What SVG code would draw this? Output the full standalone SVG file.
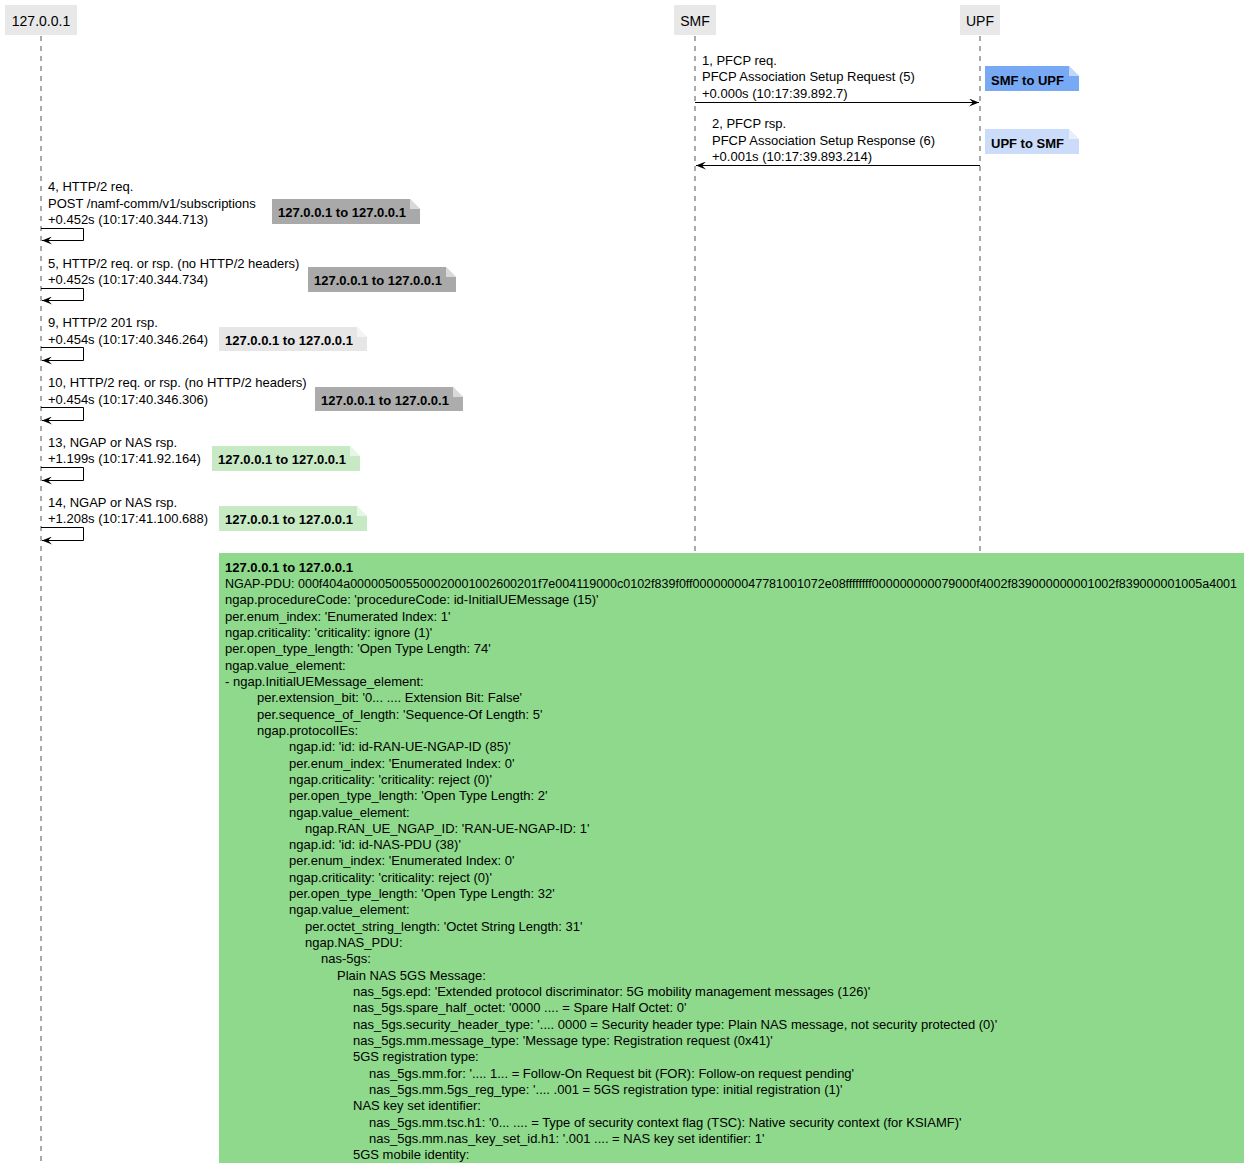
<svg xmlns="http://www.w3.org/2000/svg" width="1244" height="1163" viewBox="0 0 1244 1163">
  <style>
    text { font-family: "Liberation Sans", Arial, sans-serif; font-size: 13px; fill: #000; }
    .part { font-size: 14px; text-anchor: middle; }
    .b { font-weight: bold; }
    .hex { font-size: 12.5px; }
    .box { fill: #e8e8e8; }
    .life { stroke: #555; stroke-width: 1; stroke-dasharray: 5,5; fill: none; }
    .msg { stroke: #000; stroke-width: 1; fill: none; marker-end: url(#arr); }
    .fold { fill: #ffffff; fill-opacity: 0.55; }
  </style>
  <defs>
    <marker id="arr" markerUnits="userSpaceOnUse" markerWidth="10" markerHeight="8" refX="10" refY="4" orient="auto">
      <path d="M0,0 L10,4 L0,8 L4,4 Z" fill="#000"/>
    </marker>
  </defs>

  <rect width="1244" height="1163" fill="#ffffff"/>

  <!-- participants -->
  <g id="p-local">
    <rect class="box" x="5" y="5" width="72" height="30"/>
    <text class="part" x="41" y="26">127.0.0.1</text>
  </g>
  <g id="p-smf">
    <rect class="box" x="674" y="5" width="42" height="30"/>
    <text class="part" x="695" y="26">SMF</text>
  </g>
  <g id="p-upf">
    <rect class="box" x="960" y="5" width="40" height="30"/>
    <text class="part" x="980" y="26">UPF</text>
  </g>

  <!-- lifelines and messages -->
  <g id="connectors">
    <line class="life" x1="41" y1="36" x2="41" y2="1163"/>
    <line class="life" x1="695" y1="36" x2="695" y2="1163"/>
    <line class="life" x1="980" y1="36" x2="980" y2="1163"/>

    <path class="msg" d="M695,102.5 H979"/>
    <path class="msg" d="M980,165.5 H696"/>
    <path class="msg" d="M41,228.5 H83.5 V240.5 H42"/>
    <path class="msg" d="M41,288.5 H83.5 V300.5 H42"/>
    <path class="msg" d="M41,347.5 H83.5 V360.5 H42"/>
    <path class="msg" d="M41,407.5 H83.5 V420.5 H42"/>
    <path class="msg" d="M41,467.5 H83.5 V480.5 H42"/>
    <path class="msg" d="M41,527.5 H83.5 V540.5 H42"/>
  </g>

  <!-- message labels -->
  <g id="m1">
    <text x="702" y="65">1, PFCP req.</text>
    <text x="702" y="81.3">PFCP Association Setup Request (5)</text>
    <text x="702" y="97.6">+0.000s (10:17:39.892.7)</text>
  </g>
  <g id="m2">
    <text x="712" y="128.3">2, PFCP rsp.</text>
    <text x="712" y="144.6">PFCP Association Setup Response (6)</text>
    <text x="712" y="160.9">+0.001s (10:17:39.893.214)</text>
  </g>
  <g id="m4">
    <text x="48" y="191.3">4, HTTP/2 req.</text>
    <text x="48" y="207.6">POST /namf-comm/v1/subscriptions</text>
    <text x="48" y="224">+0.452s (10:17:40.344.713)</text>
  </g>
  <g id="m5">
    <text x="48" y="267.7">5, HTTP/2 req. or rsp. (no HTTP/2 headers)</text>
    <text x="48" y="284">+0.452s (10:17:40.344.734)</text>
  </g>
  <g id="m9">
    <text x="48" y="327.2">9, HTTP/2 201 rsp.</text>
    <text x="48" y="343.5">+0.454s (10:17:40.346.264)</text>
  </g>
  <g id="m10">
    <text x="48" y="387.2">10, HTTP/2 req. or rsp. (no HTTP/2 headers)</text>
    <text x="48" y="403.5">+0.454s (10:17:40.346.306)</text>
  </g>
  <g id="m13">
    <text x="48" y="446.7">13, NGAP or NAS rsp.</text>
    <text x="48" y="463">+1.199s (10:17:41.92.164)</text>
  </g>
  <g id="m14">
    <text x="48" y="506.7">14, NGAP or NAS rsp.</text>
    <text x="48" y="523">+1.208s (10:17:41.100.688)</text>
  </g>

  <!-- notes -->
  <g id="n1">
    <path d="M985,66 H1069 L1079,76 V91 H985 Z" fill="#78a9f4"/>
    <path class="fold" d="M1069,66 V76 H1079 Z"/>
    <text class="b" x="991" y="84.5">SMF to UPF</text>
  </g>
  <g id="n2">
    <path d="M985,129 H1069 L1079,139 V154 H985 Z" fill="#cadcf9"/>
    <path class="fold" d="M1069,129 V139 H1079 Z"/>
    <text class="b" x="991" y="147.5">UPF to SMF</text>
  </g>
  <g id="n4">
    <path d="M272,199 H410 L420,209 V224 H272 Z" fill="#a9a9a9"/>
    <path class="fold" d="M410,199 V209 H420 Z"/>
    <text class="b" x="278" y="216.7">127.0.0.1 to 127.0.0.1</text>
  </g>
  <g id="n5">
    <path d="M308,267 H446 L456,277 V292 H308 Z" fill="#a9a9a9"/>
    <path class="fold" d="M446,267 V277 H456 Z"/>
    <text class="b" x="314" y="284.5">127.0.0.1 to 127.0.0.1</text>
  </g>
  <g id="n9">
    <path d="M219,327 H357 L367,337 V351 H219 Z" fill="#e6e6e6"/>
    <path class="fold" d="M357,327 V337 H367 Z"/>
    <text class="b" x="225" y="344.5">127.0.0.1 to 127.0.0.1</text>
  </g>
  <g id="n10">
    <path d="M315,387 H453 L463,397 V411 H315 Z" fill="#acacac"/>
    <path class="fold" d="M453,387 V397 H463 Z"/>
    <text class="b" x="321" y="404.5">127.0.0.1 to 127.0.0.1</text>
  </g>
  <g id="n13">
    <path d="M212,446 H350 L360,456 V471 H212 Z" fill="#c7eac5"/>
    <path class="fold" d="M350,446 V456 H360 Z"/>
    <text class="b" x="218" y="464">127.0.0.1 to 127.0.0.1</text>
  </g>
  <g id="n14">
    <path d="M219,506 H357 L367,516 V531 H219 Z" fill="#c7eac5"/>
    <path class="fold" d="M357,506 V516 H367 Z"/>
    <text class="b" x="225" y="524">127.0.0.1 to 127.0.0.1</text>
  </g>

  <!-- decoded NGAP message -->
  <g id="n-detail">
    <rect x="219" y="553" width="1040" height="620" fill="#8ed98b"/>
    <text class="b" x="225" y="571.5">127.0.0.1 to 127.0.0.1</text>
    <text class="hex" x="225" y="587.8" textLength="1012" lengthAdjust="spacingAndGlyphs">NGAP-PDU: 000f404a000005005500020001002600201f7e004119000c0102f839f0ff0000000047781001072e08ffffffff000000000079000f4002f839000000001002f839000001005a4001</text>
    <text x="225" y="604.2">ngap.procedureCode: 'procedureCode: id-InitialUEMessage (15)'</text>
    <text x="225" y="620.5">per.enum_index: 'Enumerated Index: 1'</text>
    <text x="225" y="636.8">ngap.criticality: 'criticality: ignore (1)'</text>
    <text x="225" y="653.2">per.open_type_length: 'Open Type Length: 74'</text>
    <text x="225" y="669.5">ngap.value_element:</text>
    <text x="225" y="685.8">- ngap.InitialUEMessage_element:</text>
    <text x="257" y="702.1">per.extension_bit: '0... .... Extension Bit: False'</text>
    <text x="257" y="718.5">per.sequence_of_length: 'Sequence-Of Length: 5'</text>
    <text x="257" y="734.8">ngap.protocolIEs:</text>
    <text x="289" y="751.1">ngap.id: 'id: id-RAN-UE-NGAP-ID (85)'</text>
    <text x="289" y="767.5">per.enum_index: 'Enumerated Index: 0'</text>
    <text x="289" y="783.8">ngap.criticality: 'criticality: reject (0)'</text>
    <text x="289" y="800.1">per.open_type_length: 'Open Type Length: 2'</text>
    <text x="289" y="816.5">ngap.value_element:</text>
    <text x="305" y="832.8">ngap.RAN_UE_NGAP_ID: 'RAN-UE-NGAP-ID: 1'</text>
    <text x="289" y="849.1">ngap.id: 'id: id-NAS-PDU (38)'</text>
    <text x="289" y="865.4">per.enum_index: 'Enumerated Index: 0'</text>
    <text x="289" y="881.8">ngap.criticality: 'criticality: reject (0)'</text>
    <text x="289" y="898.1">per.open_type_length: 'Open Type Length: 32'</text>
    <text x="289" y="914.4">ngap.value_element:</text>
    <text x="305" y="930.8">per.octet_string_length: 'Octet String Length: 31'</text>
    <text x="305" y="947.1">ngap.NAS_PDU:</text>
    <text x="321" y="963.4">nas-5gs:</text>
    <text x="337" y="979.8">Plain NAS 5GS Message:</text>
    <text x="353" y="996.1">nas_5gs.epd: 'Extended protocol discriminator: 5G mobility management messages (126)'</text>
    <text x="353" y="1012.4">nas_5gs.spare_half_octet: '0000 .... = Spare Half Octet: 0'</text>
    <text x="353" y="1028.7">nas_5gs.security_header_type: '.... 0000 = Security header type: Plain NAS message, not security protected (0)'</text>
    <text x="353" y="1045.1">nas_5gs.mm.message_type: 'Message type: Registration request (0x41)'</text>
    <text x="353" y="1061.4">5GS registration type:</text>
    <text x="369" y="1077.7">nas_5gs.mm.for: '.... 1... = Follow-On Request bit (FOR): Follow-on request pending'</text>
    <text x="369" y="1094.1">nas_5gs.mm.5gs_reg_type: '.... .001 = 5GS registration type: initial registration (1)'</text>
    <text x="353" y="1110.4">NAS key set identifier:</text>
    <text x="369" y="1126.7">nas_5gs.mm.tsc.h1: '0... .... = Type of security context flag (TSC): Native security context (for KSIAMF)'</text>
    <text x="369" y="1143.1">nas_5gs.mm.nas_key_set_id.h1: '.001 .... = NAS key set identifier: 1'</text>
    <text x="353" y="1159.4">5GS mobile identity:</text>
  </g>
</svg>
